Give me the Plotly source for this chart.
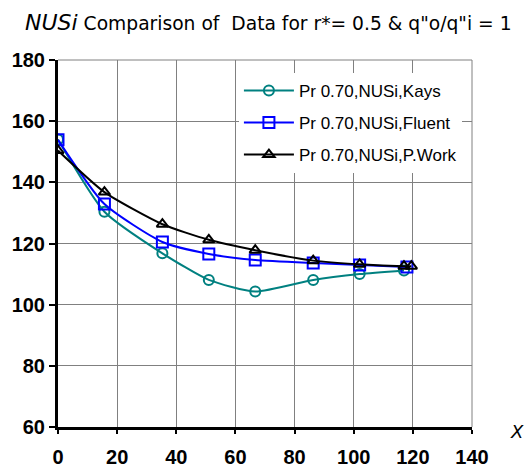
import plotly.graph_objects as go

# Data
x_kays = [0, 15.7, 35.3, 51, 66.7, 86.3, 102, 117]
y_kays = [154, 130.4, 116.8, 108.1, 104.3, 108.1, 110.0, 111.2]

x_fluent = [0, 15.7, 35.3, 51, 66.7, 86.3, 102, 118]
y_fluent = [153.9, 132.9, 120.5, 116.6, 114.6, 113.6, 113.0, 112.3]

x_pwork = [0, 15.7, 35.3, 51, 66.7, 86.3, 102, 117, 119.5]
y_pwork = [150.4, 136.8, 126.3, 121.2, 117.8, 114.4, 113.2, 112.6, 112.6]

names = ["Pr 0.70,NUSi,Kays", "Pr 0.70,NUSi,Fluent", "Pr 0.70,NUSi,P.Work"]
x_ticks = [0, 20, 40, 60, 80, 100, 120, 140]
y_ticks = [60, 80, 100, 120, 140, 160, 180]

FONT = "Liberation Sans, Arial, sans-serif"
WIDE = "DejaVu Sans, sans-serif"
GRID = "#808080"

fig = go.Figure()
series = [
    (x_kays, y_kays, names[0], "#008080", "circle-open", 10),
    (x_fluent, y_fluent, names[1], "#0000FF", "square-open", 11),
    (x_pwork, y_pwork, names[2], "#000000", "triangle-up-open", 10),
]
for i, (xs, ys, nm, col, sym, sz) in enumerate(series):
    fig.add_trace(go.Scatter(
        x=xs, y=ys, name=nm, mode="lines+markers",
        line=dict(color=col, width=2, shape="spline", smoothing=0.6),
        marker=dict(symbol=sym, size=sz, color=col, line=dict(color=col, width=2)),
        legendgroup=f"g{i}",
    ))

fig.update_layout(
    width=530, height=472,
    margin=dict(l=58, r=58, t=60, b=45, autoexpand=False),
    paper_bgcolor="white", plot_bgcolor="white",
    font=dict(family=FONT, size=16, color="black"),
    showlegend=True,
    legend=dict(
        x=0.437, y=0.965, xanchor="left", yanchor="top",
        bgcolor="white", borderwidth=0,
        font=dict(family=FONT, size=17, color="black"),
        itemwidth=50, tracegroupgap=7,
        entrywidth=232, entrywidthmode="pixels",
    ),
    shapes=[
        dict(type="line", xref="paper", yref="paper", x0=0, x1=1, y0=1, y1=1,
             line=dict(color=GRID, width=1), layer="below"),
        dict(type="line", xref="paper", yref="paper", x0=1, x1=1, y0=0, y1=1,
             line=dict(color=GRID, width=1), layer="below"),
    ],
)

fig.update_xaxes(
    range=[0, 140], tickvals=x_ticks, automargin=False,
    showgrid=True, gridcolor=GRID, gridwidth=1,
    showline=True, linecolor="black", linewidth=3,
    ticks="outside", ticklen=4, tickwidth=2, tickcolor="black",
    ticklabelstandoff=6, zeroline=False,
    tickfont=dict(family=FONT, size=20, color="black", weight="bold"),
)
fig.update_yaxes(
    range=[60, 180], tickvals=y_ticks, automargin=False,
    showgrid=True, gridcolor=GRID, gridwidth=1,
    showline=True, linecolor="black", linewidth=3,
    ticks="outside", ticklen=6, tickwidth=2, tickcolor="black",
    zeroline=False,
    tickfont=dict(family=FONT, size=20, color="black", weight="bold"),
)

fig.add_annotation(
    xref="paper", yref="paper", x=-0.085, y=1.0, yshift=38,
    xanchor="left", yanchor="middle", showarrow=False,
    text="<i><span style='font-size:22px'>NUSi</span></i> Comparison of\u00a0 Data for r*= 0.5 &amp; q\"o/q\"i = 1",
    font=dict(family=WIDE, size=18.7, color="black"),
)
fig.add_annotation(
    xref="paper", yref="paper", x=1.0, y=0.0, xshift=36, yshift=-4,
    xanchor="left", yanchor="middle", showarrow=False,
    text="<i>X</i>", font=dict(family=WIDE, size=18, color="black"),
)

fig.write_html("out.html")
